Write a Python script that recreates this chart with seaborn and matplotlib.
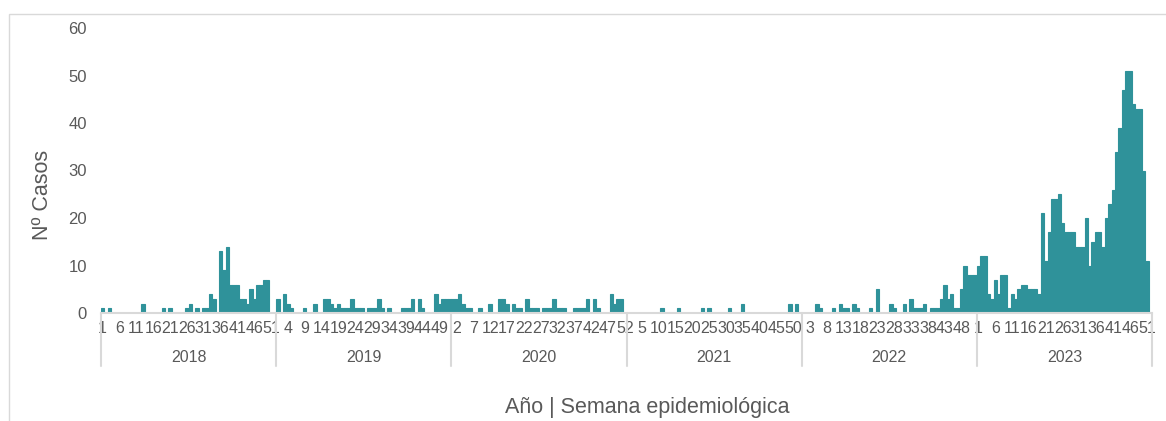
import matplotlib
matplotlib.use("Agg")
import matplotlib.pyplot as plt
import matplotlib.transforms as mtransforms
from matplotlib.patches import Rectangle
import numpy as np
import pandas as pd
import seaborn as sns

# Casos semanales por año (semana 1..52)
years = ["2018", "2019", "2020", "2021", "2022", "2023"]

casos_2018 = [1, 0, 1, 0, 0, 0, 0, 0, 0, 0, 0, 0, 2, 0, 0, 0, 0, 0, 1, 0,
              1, 0, 0, 0, 0, 1, 2, 0, 1, 0, 1, 1, 4, 3, 0, 13, 9, 14, 6, 6,
              6, 3, 3, 2, 5, 3, 6, 6, 7, 7, 0, 0]
casos_2019 = [3, 0, 4, 2, 1, 0, 0, 0, 1, 0, 0, 2, 0, 0, 3, 3, 2, 1, 2, 1,
              1, 1, 3, 1, 1, 1, 0, 1, 1, 1, 3, 1, 0, 1, 0, 0, 0, 1, 1, 1,
              3, 0, 3, 1, 0, 0, 0, 4, 2, 3, 3, 3]
casos_2020 = [3, 3, 4, 2, 1, 1, 0, 0, 1, 0, 0, 2, 0, 0, 3, 3, 2, 0, 2, 1,
              1, 0, 3, 1, 1, 1, 0, 1, 1, 1, 3, 1, 1, 1, 0, 0, 1, 1, 1, 1,
              3, 0, 3, 1, 0, 0, 0, 4, 2, 3, 3, 0]
casos_2021 = [0, 0, 0, 0, 0, 0, 0, 0, 0, 0, 1, 0, 0, 0, 0, 1, 0, 0, 0, 0,
              0, 0, 1, 0, 1, 0, 0, 0, 0, 0, 1, 0, 0, 0, 2, 0, 0, 0, 0, 0,
              0, 0, 0, 0, 0, 0, 0, 0, 2, 0, 2, 0]
casos_2022 = [0, 0, 0, 0, 2, 1, 0, 0, 0, 1, 0, 2, 1, 1, 0, 2, 1, 0, 0, 0,
              1, 0, 5, 0, 0, 0, 2, 1, 0, 0, 2, 0, 3, 1, 1, 1, 2, 0, 1, 1,
              1, 3, 6, 3, 4, 1, 1, 5, 10, 8, 8, 8]
casos_2023 = [10, 12, 12, 4, 3, 7, 4, 8, 8, 1, 4, 3, 5, 6, 6, 5, 5, 5, 4, 21,
              11, 17, 24, 24, 25, 19, 17, 17, 17, 14, 14, 14, 20, 10, 15, 17, 17, 14, 20, 23,
              26, 34, 39, 47, 51, 51, 44, 43, 43, 30, 11, 0]

series = [casos_2018, casos_2019, casos_2020, casos_2021, casos_2022, casos_2023]

TEAL = "#2F929A"
GRAY_TEXT = "#595959"
GRAY_LINE = "#D9D9D9"

rows = []
for year, vals in zip(years, series):
    for week, v in enumerate(vals, start=1):
        rows.append((year, week, v))
df = pd.DataFrame(rows, columns=["anio", "semana", "casos"])
df["pos"] = np.arange(len(df))

sns.set_style("white")
plt.rcParams["font.family"] = ["Liberation Sans", "DejaVu Sans"]

W, H = 1166, 421
fig = plt.figure(figsize=(W / 100, H / 100), dpi=100)
ax = fig.add_axes([101 / W, 1 - 313 / H, (1152 - 101) / W, (313 - 28) / H])

sns.barplot(data=df, x="pos", y="casos", order=df["pos"], color=TEAL,
            saturation=1, width=1.0, linewidth=0.8, edgecolor=TEAL, ax=ax)

n = len(df)
ax.set_xlim(-0.5, n - 0.5)
ax.set_ylim(0, 60)
ax.set_yticks(range(0, 61, 10))
ax.tick_params(axis="y", length=0, pad=10, labelsize=12, labelcolor=GRAY_TEXT)

# etiquetas de semana cada 5 categorías
tick_pos = df["pos"][df["pos"] % 5 == 0]
ax.set_xticks(tick_pos)
ax.set_xticklabels(df.loc[tick_pos, "semana"].astype(str))
ax.tick_params(axis="x", length=0, pad=6, labelsize=11.5, labelcolor=GRAY_TEXT)
ax.set_xlabel("")
ax.set_ylabel("")

for side in ["top", "right", "left"]:
    ax.spines[side].set_visible(False)
ax.spines["bottom"].set_color(GRAY_LINE)
ax.spines["bottom"].set_linewidth(1.5)

# separadores y etiquetas de año
trans = mtransforms.blended_transform_factory(ax.transData, ax.transAxes)
axes_h = 313 - 28
sep_bottom = -(366 - 313) / axes_h
year_y = -(357 - 313) / axes_h
start = 0
for year, vals in zip(years, series):
    ax.plot([start - 0.5, start - 0.5], [0, sep_bottom], transform=trans,
            clip_on=False, color=GRAY_LINE, lw=1.5)
    ax.text(start + len(vals) / 2 - 0.5, year_y, year, transform=trans,
            ha="center", va="center", fontsize=11.5, color=GRAY_TEXT)
    start += len(vals)
ax.plot([start - 0.5, start - 0.5], [0, sep_bottom], transform=trans,
        clip_on=False, color=GRAY_LINE, lw=1.5)

fig.text(42 / W, 1 - 195 / H, "Nº Casos", rotation=90, ha="center",
         va="center", fontsize=15.5, color=GRAY_TEXT)
fig.text(647 / W, 1 - 408 / H, "Año | Semana epidemiológica", ha="center",
         va="center", fontsize=15.5, color=GRAY_TEXT)

# borde del área del gráfico
fig.patches.append(Rectangle((8.5 / W, -0.05), 1.2, 1 - 14 / H + 0.05,
                             transform=fig.transFigure, fill=False,
                             edgecolor=GRAY_LINE, lw=1))

fig.savefig("out.png", dpi=100)
plt.close(fig)
